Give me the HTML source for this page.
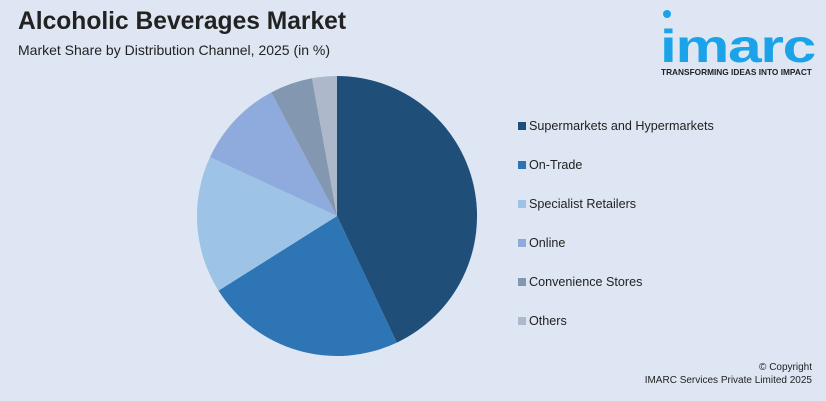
<!DOCTYPE html>
<html><head><meta charset="utf-8"><style>
body{margin:0;width:826px;height:401px;background:#dde6f2;font-family:"Liberation Sans",sans-serif;position:relative;overflow:hidden}
.t{position:absolute;left:18px;top:8px;font-size:24.6px;font-weight:bold;color:#222}
.s{position:absolute;left:18px;top:42px;font-size:14px;color:#222}
.lg{position:absolute;left:518px;font-size:12.6px;color:#222}
.lg i{display:inline-block;width:8px;height:8px;margin-right:3px;vertical-align:0}
.c{position:absolute;right:14px;font-size:10px;color:#222;text-align:right}
</style></head><body>
<div class="t">Alcoholic Beverages Market</div>
<div class="s">Market Share by Distribution Channel, 2025 (in %)</div>
<svg style="position:absolute;left:0;top:0" width="826" height="401">
<path d="M337,216 L337,76 A140,140 0 0 1 396.8,342.6Z" fill="#1f4e79"/>
<path d="M337,216 L396.8,342.6 A140,140 0 0 1 218.5,290.6Z" fill="#2e75b6"/>
<path d="M337,216 L218.5,290.6 A140,140 0 0 1 210,157.1Z" fill="#9dc3e6"/>
<path d="M337,216 L210,157.1 A140,140 0 0 1 271.3,92.4Z" fill="#8faadc"/>
<path d="M337,216 L271.3,92.4 A140,140 0 0 1 312,78.3Z" fill="#8497b0"/>
<path d="M337,216 L312,78.3 A140,140 0 0 1 337,76Z" fill="#adb9ca"/>
<circle cx="667" cy="14" r="4" fill="#1aa3e8"/>
<text x="660" y="62" font-family="Liberation Sans" font-size="46" font-weight="bold" fill="#1aa3e8" letter-spacing="-1" textLength="155" lengthAdjust="spacingAndGlyphs">imarc</text>
<text x="661" y="75" font-family="Liberation Sans" font-size="8.3" font-weight="bold" fill="#222">TRANSFORMING IDEAS INTO IMPACT</text>
</svg>
<div class="lg" style="top:119px"><i style="background:#1f4e79"></i>Supermarkets and Hypermarkets</div>
<div class="lg" style="top:158px"><i style="background:#2e75b6"></i>On-Trade</div>
<div class="lg" style="top:197px"><i style="background:#9dc3e6"></i>Specialist Retailers</div>
<div class="lg" style="top:236px"><i style="background:#8faadc"></i>Online</div>
<div class="lg" style="top:275px"><i style="background:#8497b0"></i>Convenience Stores</div>
<div class="lg" style="top:314px"><i style="background:#adb9ca"></i>Others</div>
<div class="c" style="top:362px">© Copyright</div>
<div class="c" style="top:375px">IMARC Services Private Limited 2025</div>
</body></html>
